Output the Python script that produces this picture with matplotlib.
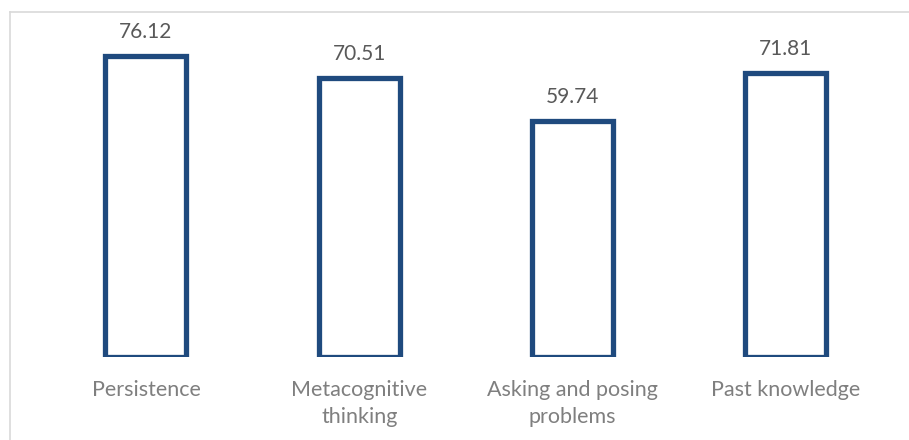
import matplotlib.pyplot as plt
from matplotlib.lines import Line2D

categories = ["Persistence", "Metacognitive\nthinking", "Asking and posing\nproblems", "Past knowledge"]
values = [76.12, 70.51, 59.74, 71.81]

plt.rcParams['font.family'] = ['Lato', 'DejaVu Sans']

fig = plt.figure(figsize=(9.09, 4.4), dpi=100)
ax = fig.add_axes([39.3 / 909, 83.5 / 440, 853.3 / 909, 315.8 / 440])

x = list(range(len(categories)))
ax.bar(x, values, width=0.38, facecolor="white", edgecolor="#1f4a7e", linewidth=3.8)

for xi, v in zip(x, values):
    ax.text(xi, v + 3.5, f"{v:.2f}", ha="center", va="bottom", fontsize=15, color="#595959")

ax.set_xlim(-0.5, 3.5)
ax.set_ylim(0, 80)
ax.set_xticks(x)
ax.set_xticklabels(categories, fontsize=15.5, color="#7f7f7f", linespacing=1.45, va="top")
ax.tick_params(axis="x", length=0, pad=17)
ax.set_yticks([])
for s in ax.spines.values():
    s.set_visible(False)
ax.patch.set_alpha(0)

# outer chart border (cropped at right and bottom)
fig.add_artist(Line2D([10 / 909, 1], [1 - 12.5 / 440] * 2, transform=fig.transFigure, color="#d9d9d9", lw=1.2))
fig.add_artist(Line2D([10 / 909] * 2, [0, 1 - 12.5 / 440], transform=fig.transFigure, color="#d9d9d9", lw=1.2))

fig.savefig("out.png", dpi=100)
